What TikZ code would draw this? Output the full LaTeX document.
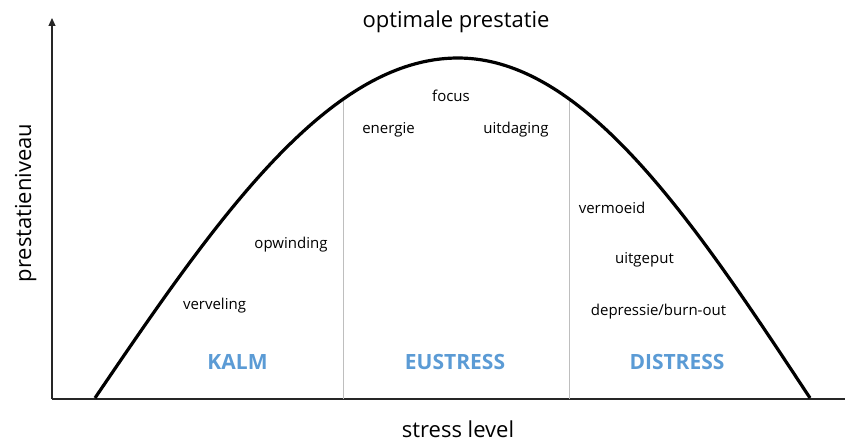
\documentclass[tikz,border=0pt]{standalone}
\usepackage{fontspec}
\setmainfont{Open Sans}
\usetikzlibrary{arrows.meta}

\definecolor{zoneblue}{RGB}{91,155,213}
\definecolor{divgray}{RGB}{190,190,190}

\tikzset{
    axis/.style={line width=1.2pt, draw=black!85},
    curve/.style={line width=3.2pt, line join=round},
    divider/.style={line width=1pt, draw=divgray},
    word/.style={font=\fontsize{15}{18}\selectfont, inner sep=0pt, anchor=base},
    zone/.style={font=\fontsize{21}{25}\selectfont\bfseries, text=zoneblue, inner sep=0pt, anchor=base},
    axislabel/.style={font=\fontsize{22}{26}\selectfont, inner sep=0pt, anchor=base}
}

\begin{document}
\begin{tikzpicture}[x=1pt, y=-1pt]
    \useasboundingbox (0,0) rectangle (845,441);

    % axes
    \coordinate (origin) at (52,399);
    \coordinate (ytop) at (52,18);
    \coordinate (xend) at (845,399);
    \draw[axis] (origin) -- (xend);
    \draw[axis, -{Triangle[width=7pt,length=8pt]}] (origin) -- (ytop);

    % zone borders
    \coordinate (kalmtop) at (343,101);
    \coordinate (kalmbot) at (343,399);
    \coordinate (distop) at (569,99);
    \coordinate (disbot) at (569,399);
    \draw[divider] (kalmbot) -- (kalmtop);
    \draw[divider] (disbot) -- (distop);

    % performance curve
    \draw[curve] plot[domain=95:458, samples=60, smooth] (\x, {398-340*cos((\x-458)/363*90)})
        -- plot[domain=458:810, samples=60, smooth] (\x, {398-340*cos((\x-458)/352*90)});

    \node[axislabel] (title) at (456,28) {optimale prestatie};
    \node[axislabel] (xlabel) at (458,437) {stress level};
    \node[axislabel, rotate=90] (ylabel) at (31,203) {prestatieniveau};

    \node[word] (focus) at (451,102) {focus};
    \node[word] (energie) at (388.5,133) {energie};
    \node[word] (uitdaging) at (516,133) {uitdaging};
    \node[word] (opwinding) at (291,248) {opwinding};
    \node[word] (verveling) at (214.5,309) {verveling};
    \node[word] (vermoeid) at (612,213) {vermoeid};
    \node[word] (uitgeput) at (644.5,263) {uitgeput};
    \node[word] (burnout) at (658.5,315) {depressie/burn-out};

    \node[zone] (kalm) at (237.5,369) {KALM};
    \node[zone] (eustress) at (455,369) {EUSTRESS};
    \node[zone] (distress) at (677,369) {DISTRESS};
\end{tikzpicture}
\end{document}
